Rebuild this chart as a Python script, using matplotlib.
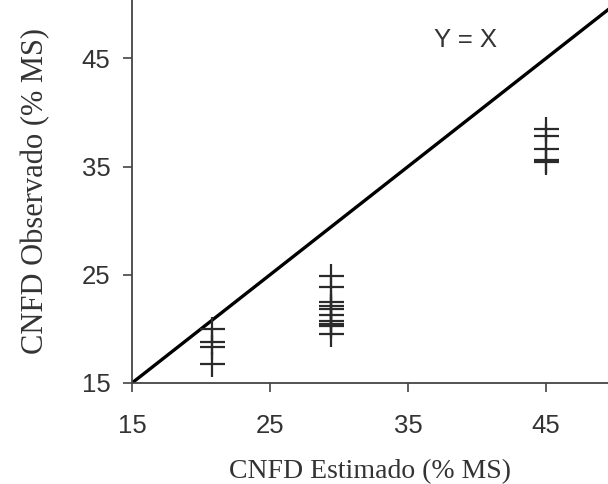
import matplotlib
matplotlib.use("Agg")
import numpy as np
from matplotlib import pyplot as plt

# estimated vs observed CNFD (% MS)
x_est = [20.8, 20.8, 20.8, 20.8,
         29.45, 29.45, 29.45, 29.45, 29.45, 29.45, 29.45, 29.45, 29.45, 29.45,
         45.0, 45.0, 45.0, 45.0, 45.0]
y_obs = [20.0, 18.8, 18.35, 16.8,
         24.85, 23.85, 22.45, 22.15, 21.8, 21.3, 20.7, 20.45, 20.3, 19.55,
         38.5, 37.8, 36.65, 35.65, 35.45]
ticks = [15, 25, 35, 45]
xmax = 49.5
ymax = 50.4
#############################################################

fig = plt.figure(figsize=(6.08, 4.84), dpi=100)
ax = fig.add_axes([132/608, 101/484, 476/608, 383/484])

ax.plot([15, xmax], [15, xmax], "k-", linewidth=2.4)
ax.plot(x_est, y_obs, "+", color="#2a2a2a", markersize=18, markeredgewidth=1.6)

ax.text(39.2, 46.7, "Y = X", fontsize=18.5, family="Liberation Sans", color="#333333",
        ha="center", va="center")

ax.set_xlim(15, xmax)
ax.set_ylim(15, ymax)
ax.set_xticks(ticks)
ax.set_yticks(ticks)
ax.tick_params(length=6.5, width=1.2, color="#444444", labelsize=18.5,
               labelcolor="#333333")
ax.tick_params(axis="x", pad=16)
ax.tick_params(axis="y", pad=9)
for lab in ax.get_xticklabels() + ax.get_yticklabels():
    lab.set_family("Liberation Sans")
ax.spines["top"].set_visible(False)
ax.spines["right"].set_visible(False)
ax.spines["left"].set_color("#444444")
ax.spines["bottom"].set_color("#444444")
ax.spines["left"].set_linewidth(1.3)
ax.spines["bottom"].set_linewidth(1.3)

ax.set_xlabel("CNFD Estimado (% MS)", fontsize=20, family="Liberation Serif",
              color="#333333", labelpad=15)
ax.set_ylabel("CNFD Observado (% MS)", fontsize=22, family="Liberation Serif",
              color="#333333", labelpad=23)

fig.savefig("out.png", dpi=100)
